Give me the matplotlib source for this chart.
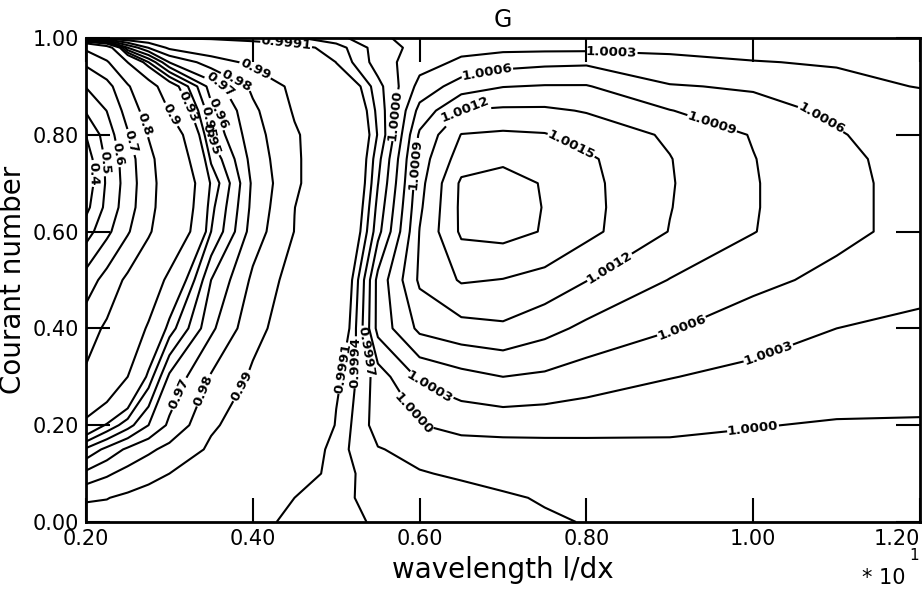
import numpy as np
import matplotlib
matplotlib.use("Agg")
import matplotlib.pyplot as plt

# wavelength axis (in units of 10 dx) and Courant number axis of the G table
wavelength = [0.200, 0.225, 0.250, 0.275, 0.30, 0.35, 0.40, 0.45, 0.50, 0.55,
              0.60, 0.65, 0.70, 0.75, 0.80, 0.90, 1.00, 1.10, 1.20]
courant = [0.00, 0.05, 0.10, 0.15, 0.20, 0.30, 0.40, 0.50, 0.60,
           0.65, 0.70, 0.75, 0.80, 0.85, 0.90, 0.95, 0.98, 1.00]

# amplification factor G, one row per Courant number
g_000 = [0.9930, 0.9940, 0.9950, 0.9958, 0.9965, 0.9977, 0.9989, 0.99925, 0.99932, 0.99943,
         0.99950, 0.99956, 0.99962, 0.99967, 0.99971, 0.99978, 0.99982, 0.99985, 0.99987]
g_005 = [0.9893, 0.9897, 0.9918, 0.9934, 0.9948, 0.9968, 0.9981, 0.99910, 0.99936, 0.99945,
         0.99953, 0.99960, 0.99967, 0.99972, 0.99976, 0.99982, 0.99986, 0.99988, 0.99990]
g_010 = [0.9726, 0.9785, 0.9835, 0.9872, 0.9900, 0.9945, 0.9972, 0.99880, 0.99927, 0.99955,
         0.99968, 0.99974, 0.99978, 0.99981, 0.99984, 0.99988, 0.99990, 0.99992, 0.99993]
g_015 = [0.9520, 0.9630, 0.9720, 0.9780, 0.9830, 0.9915, 0.9958, 0.99860, 0.99928, 0.99968,
         0.99980, 0.99986, 0.99988, 0.99990, 0.99991, 0.99993, 0.99994, 0.99995, 0.99996]
g_020 = [0.9150, 0.9320, 0.9460, 0.9600, 0.9720, 0.9888, 0.9945, 0.99780, 0.99915, 0.99985,
         0.99999, 1.00010, 1.00012, 1.00011, 1.00010, 1.00007, 1.00001, 0.99998, 0.99998]
g_030 = [0.8140, 0.8650, 0.9000, 0.9340, 0.9620, 0.9810, 0.9915, 0.99680, 0.99900, 0.99985,
         1.00035, 1.00050, 1.00060, 1.00055, 1.00045, 1.00031, 1.00022, 1.00014, 1.00010]
g_040 = [0.7600, 0.8150, 0.8700, 0.9050, 0.9350, 0.9680, 0.9870, 0.99550, 0.99850, 1.00040,
         1.00097, 1.00110, 1.00115, 1.00100, 1.00083, 1.00062, 1.00044, 1.00030, 1.00023]
g_050 = [0.6440, 0.7400, 0.8200, 0.8700, 0.9100, 0.9600, 0.9820, 0.99450, 0.99830, 1.00040,
         1.00125, 1.00153, 1.00149, 1.00140, 1.00121, 1.00089, 1.00068, 1.00052, 1.00040]
g_060 = [0.4550, 0.5750, 0.6900, 0.7900, 0.8600, 0.9400, 0.9750, 0.99020, 0.99800, 0.99990,
         1.00121, 1.00185, 1.00190, 1.00178, 1.00158, 1.00119, 1.00091, 1.00068, 1.00050]
g_065 = [0.3700, 0.5300, 0.6550, 0.7750, 0.8500, 0.9370, 0.9730, 0.98990, 0.99790, 0.99980,
         1.00115, 1.00186, 1.00192, 1.00179, 1.00159, 1.00121, 1.00092, 1.00068, 1.00050]
g_070 = [0.3350, 0.5150, 0.6450, 0.7700, 0.8480, 0.9320, 0.9720, 0.98850, 0.99780, 0.99969,
         1.00110, 1.00185, 1.00190, 1.00178, 1.00158, 1.00122, 1.00092, 1.00068, 1.00050]
g_075 = [0.3450, 0.5200, 0.6550, 0.7750, 0.8620, 0.9420, 0.9740, 0.98850, 0.99780, 0.99960,
         1.00105, 1.00165, 1.00175, 1.00170, 1.00155, 1.00121, 1.00091, 1.00066, 1.00050]
g_080 = [0.4020, 0.5500, 0.6900, 0.8050, 0.8750, 0.9520, 0.9760, 0.98880, 0.99780, 0.99943,
         1.00095, 1.00151, 1.00155, 1.00152, 1.00138, 1.00116, 1.00088, 1.00062, 1.00047]
g_085 = [0.5100, 0.6020, 0.7400, 0.8450, 0.9020, 0.9570, 0.9780, 0.99100, 0.99800, 0.99950,
         1.00070, 1.00121, 1.00125, 1.00125, 1.00118, 1.00091, 1.00070, 1.00055, 1.00043]
g_090 = [0.6050, 0.6650, 0.7900, 0.8850, 0.9200, 0.9650, 0.9820, 0.99250, 0.99840, 0.99960,
         1.00040, 1.00075, 1.00089, 1.00092, 1.00092, 1.00062, 1.00057, 1.00037, 1.00029]
g_095 = [0.7200, 0.7900, 0.9010, 0.9400, 0.9705, 0.9850, 0.9925, 0.99700, 0.99912, 0.99985,
         1.00018, 1.00035, 1.00048, 1.00053, 1.00055, 1.00040, 1.00031, 1.00028, 1.00026]
g_098 = [0.8200, 0.8800, 0.9600, 0.9805, 0.9920, 0.9972, 0.9986, 0.99895, 0.99925, 0.99985,
         1.00010, 1.00022, 1.00022, 1.00022, 1.00022, 1.00022, 1.00022, 1.00021, 1.00020]
g_100 = [0.99935, 0.99935, 0.99935, 0.99935, 0.99935, 0.99935, 0.99935, 0.99935, 0.99960, 0.99995,
         1.00010, 1.00015, 1.00015, 1.00015, 1.00015, 1.00015, 1.00015, 1.00015, 1.00015]

levels = [0.4, 0.5, 0.6, 0.7, 0.8, 0.9, 0.93, 0.94, 0.95, 0.96, 0.97, 0.98, 0.99,
          0.9991, 0.9994, 0.9997, 1.0, 1.0003, 1.0006, 1.0009, 1.0012, 1.0015, 1.0018]

# where the contour labels sit (data coordinates)
label_pos = [(0.208, 0.72), (0.219, 0.742), (0.231, 0.758), (0.249, 0.783),
             (0.267, 0.82), (0.307, 0.847), (0.325, 0.86), (0.349, 0.789),
             (0.351, 0.816), (0.36, 0.845), (0.357, 0.888), (0.381, 0.913),
             (0.405, 0.94), (0.309, 0.267), (0.340, 0.273), (0.381, 0.287),
             (0.44, 0.985), (0.50, 0.32), (0.513, 0.33), (0.527, 0.35),
             (0.575, 0.84), (0.59, 0.22), (1.0, 0.19),
             (0.83, 0.97), (0.61, 0.27), (1.02, 0.34),
             (0.68, 0.94), (1.08, 0.83), (0.915, 0.40),
             (0.594, 0.74), (0.95, 0.82),
             (0.655, 0.84), (0.83, 0.52), (0.785, 0.79)]


def fmt(v):
    if v >= 0.999:
        return "%.4f" % v
    return ("%.2f" % v).rstrip("0")


G = np.array([g_000, g_005, g_010, g_015, g_020, g_030, g_040, g_050, g_060,
              g_065, g_070, g_075, g_080, g_085, g_090, g_095, g_098, g_100])
X, Y = np.meshgrid(wavelength, courant)

fig = plt.figure(figsize=(9.22, 5.92), dpi=100)
ax = fig.add_axes([86 / 922, 1 - 522 / 592, 834 / 922, 484 / 592])

cs = ax.contour(X, Y, G, levels=levels, colors="black", linewidths=1.5)
ax.clabel(cs, fmt=fmt, fontsize=9.5, manual=label_pos, inline=True, inline_spacing=3)
for t in cs.labelTexts:
    t.set_fontweight("bold")

ax.set_xlim(0.2, 1.2)
ax.set_ylim(0.0, 1.0)
xt = [0.2, 0.4, 0.6, 0.8, 1.0, 1.2]
yt = [0.0, 0.2, 0.4, 0.6, 0.8, 1.0]
ax.set_xticks(xt)
ax.set_xticklabels(["%.2f" % t for t in xt])
ax.get_xticklabels()[-1].set_horizontalalignment("right")
ax.set_yticks(yt)
ax.set_yticklabels(["%.2f" % t for t in yt])
ax.tick_params(direction="in", length=17, width=1.5, top=True, right=True,
               labelsize=15, pad=5)
for sp in ax.spines.values():
    sp.set_linewidth(2)

ax.set_title("G", fontsize=17, pad=8)
ax.set_xlabel("wavelength l/dx", fontsize=20, labelpad=5)
ax.set_ylabel("Courant number", fontsize=20, labelpad=4)
fig.text(862 / 922, 1 - 578 / 592, "* 10", fontsize=15, ha="left", va="center")
fig.text(909 / 922, 1 - 556 / 592, "1", fontsize=11, ha="left", va="center")

fig.savefig("out.png", dpi=100)
